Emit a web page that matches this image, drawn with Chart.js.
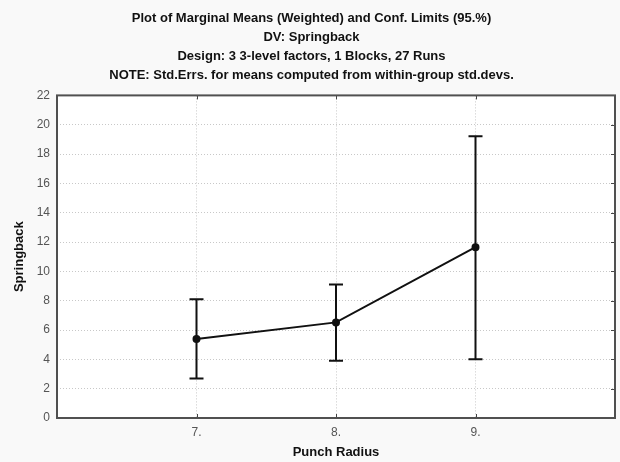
<!DOCTYPE html>
<html>
<head>
<meta charset="utf-8">
<script src="https://cdn.jsdelivr.net/npm/chart.js@4/dist/chart.umd.min.js"></script>
<style>
    html, body { margin: 0; padding: 0; background: #f9f9f9; }
    #wrap { width: 620px; height: 462px; }
</style>
</head>
<body>
<div id="wrap"><canvas id="grafica" width="620" height="462"></canvas></div>
<script>
// ================= DATOS =================
const punchRadius = [7, 8, 9];
const medias      = [5.38, 6.52, 11.65];
const limiteInf   = [2.70, 3.90, 4.00];
const limiteSup   = [8.10, 9.10, 19.22];
const yTicks      = [0, 2, 4, 6, 8, 10, 12, 14, 16, 18, 20, 22];

const titulo = [
    "Plot of Marginal Means (Weighted) and Conf. Limits (95.%)",
    "DV: Springback",
    "Design: 3 3-level factors, 1 Blocks, 27 Runs",
    "NOTE: Std.Errs. for means computed from within-group std.devs."
];

const fuente = "'Liberation Sans', Arial, sans-serif";
const gridColor = "#c8c8c8";

// ================= PLUGIN: fondo, marco, barras de error =================
const marco = {
    id: "marco",
    beforeDraw(chart)
    {
        const ctx = chart.ctx;
        const a = chart.chartArea;
        ctx.save();
        ctx.fillStyle = "#f9f9f9";
        ctx.fillRect(0, 0, chart.width, chart.height);
        ctx.fillStyle = "#ffffff";
        ctx.fillRect(a.left, a.top, a.right - a.left, a.bottom - a.top);
        ctx.restore();
    },
    afterDatasetsDraw(chart)
    {
        const ctx = chart.ctx;
        const x = chart.scales.x;
        const y = chart.scales.y;
        ctx.save();
        ctx.strokeStyle = "#111";
        ctx.lineWidth = 2;
        punchRadius.forEach((r, i) => {
            const px = x.getPixelForValue(r);
            const y1 = y.getPixelForValue(limiteInf[i]);
            const y2 = y.getPixelForValue(limiteSup[i]);
            ctx.beginPath();
            ctx.moveTo(px, y1); ctx.lineTo(px, y2);
            ctx.moveTo(px - 7, y1); ctx.lineTo(px + 7, y1);
            ctx.moveTo(px - 7, y2); ctx.lineTo(px + 7, y2);
            ctx.stroke();
        });
        ctx.restore();
    },
    afterDraw(chart)
    {
        const ctx = chart.ctx;
        const a = chart.chartArea;
        const x = chart.scales.x;
        const y = chart.scales.y;
        ctx.save();
        ctx.strokeStyle = "#444";
        ctx.lineWidth = 1;
        // ticks hacia dentro
        ctx.beginPath();
        yTicks.forEach(v => {
            const py = Math.round(y.getPixelForValue(v)) + 0.5;
            ctx.moveTo(a.right - 4, py); ctx.lineTo(a.right, py);
        });
        punchRadius.forEach(r => {
            const px = Math.round(x.getPixelForValue(r)) + 0.5;
            ctx.moveTo(px, a.top); ctx.lineTo(px, a.top + 4);
            ctx.moveTo(px, a.bottom); ctx.lineTo(px, a.bottom - 4);
        });
        ctx.stroke();
        ctx.strokeStyle = "#505050";
        ctx.lineWidth = 2;
        ctx.strokeRect(a.left, a.top, a.right - a.left, a.bottom - a.top);
        ctx.restore();
    }
};

// ================= GRAFICA =================
new Chart(document.getElementById("grafica"), {
    type: "line",
    data: {
        datasets: [{
            label: "Springback",
            data: punchRadius.map((r, i) => ({ x: r, y: medias[i] })),
            borderColor: "#111",
            backgroundColor: "#111",
            borderWidth: 2,
            pointRadius: 3,
            pointHoverRadius: 3,
            tension: 0
        }]
    },
    options: {
        responsive: false,
        animation: false,
        events: [],
        layout: { padding: { left: 8, right: 5, top: 0, bottom: 0 } },
        plugins: {
            legend: { display: false },
            tooltip: { enabled: false },
            title: {
                display: true,
                text: titulo,
                color: "#111",
                font: { family: fuente, size: 13, weight: "bold", lineHeight: 1.45 },
                padding: { top: 9, bottom: 11 }
            }
        },
        scales: {
            x: {
                type: "linear",
                min: 6,
                max: 10,
                afterBuildTicks(scale) {
                    scale.ticks = punchRadius.map(v => ({ value: v }));
                },
                afterFit(scale) { scale.height = 44; },
                ticks: {
                    callback: v => v + ".",
                    color: "#555",
                    font: { family: fuente, size: 12 },
                    padding: 7
                },
                grid: {
                    color: gridColor,
                    drawTicks: false,
                    lineWidth: 1
                },
                border: { display: false, dash: [1, 2] },
                title: {
                    display: true,
                    text: "Punch Radius",
                    color: "#111",
                    font: { family: fuente, size: 13, weight: "bold" },
                    padding: { top: 4, bottom: 2 }
                }
            },
            y: {
                min: 0,
                max: 22,
                afterBuildTicks(scale) {
                    scale.ticks = yTicks.map(v => ({ value: v }));
                },
                afterFit(scale) { scale.width = 49; },
                ticks: {
                    color: "#555",
                    font: { family: fuente, size: 12 },
                    padding: 7
                },
                grid: {
                    color: gridColor,
                    drawTicks: false,
                    lineWidth: 1
                },
                border: { display: false, dash: [1, 2] },
                title: {
                    display: true,
                    text: "Springback",
                    color: "#111",
                    font: { family: fuente, size: 13, weight: "bold" },
                    padding: { top: 4, bottom: 4 }
                }
            }
        }
    },
    plugins: [marco]
});
</script>
</body>
</html>
